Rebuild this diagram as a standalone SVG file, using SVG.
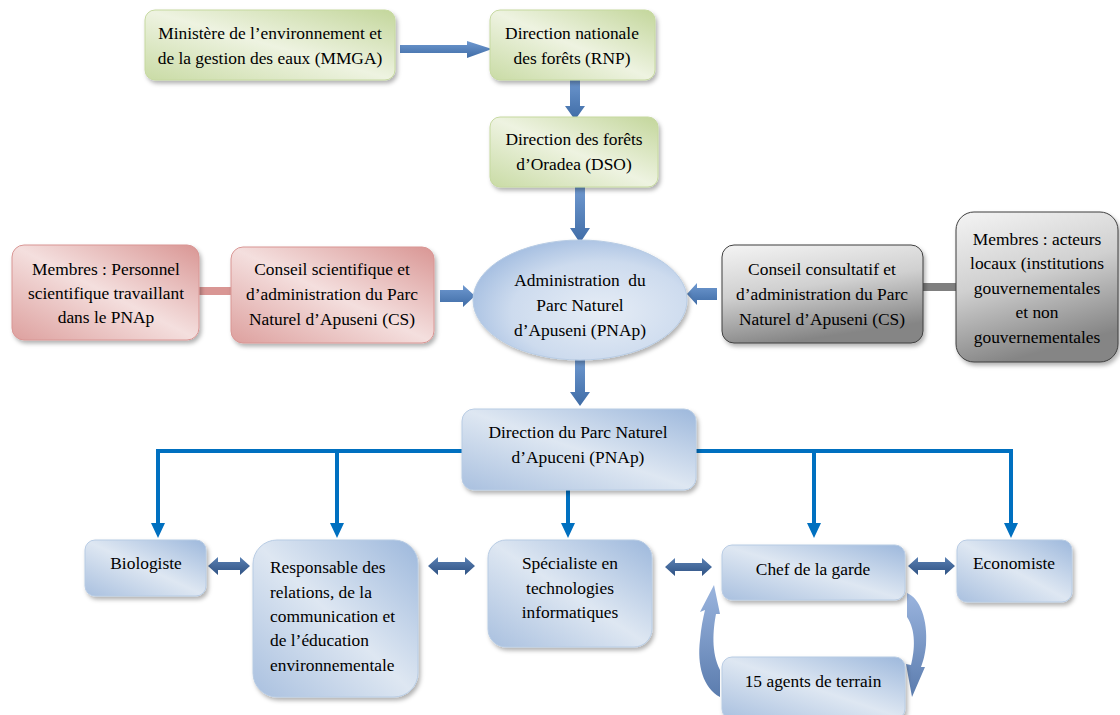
<svg xmlns="http://www.w3.org/2000/svg" width="1120" height="715" viewBox="0 0 1120 715">
<defs>
<linearGradient id="gGreen" x1="0" y1="1" x2="1" y2="0">
<stop offset="0" stop-color="#c9dba5"/><stop offset="0.5" stop-color="#eef3e1"/><stop offset="1" stop-color="#c3d69b"/>
</linearGradient>
<linearGradient id="gBlue" x1="0" y1="1" x2="1" y2="0">
<stop offset="0" stop-color="#a9c0df"/><stop offset="0.5" stop-color="#dee7f2"/><stop offset="1" stop-color="#9db8dc"/>
</linearGradient>
<linearGradient id="gPink" x1="0" y1="1" x2="1" y2="0">
<stop offset="0" stop-color="#dda09e"/><stop offset="0.5" stop-color="#f4dfde"/><stop offset="1" stop-color="#d99694"/>
</linearGradient>
<linearGradient id="gGray" x1="0" y1="0" x2="0.3" y2="1">
<stop offset="0" stop-color="#f4f4f4"/><stop offset="0.5" stop-color="#d0d0d0"/><stop offset="1" stop-color="#858585"/>
</linearGradient>
<radialGradient id="gEll" cx="0.6" cy="0.6" r="0.7">
<stop offset="0" stop-color="#e6edf6"/><stop offset="0.6" stop-color="#cddbee"/><stop offset="1" stop-color="#9cb8de"/>
</radialGradient>
<linearGradient id="gArrow" x1="0" y1="0" x2="0" y2="1">
<stop offset="0" stop-color="#6f99d0"/><stop offset="1" stop-color="#3f6ca6"/>
</linearGradient>
<linearGradient id="gDbl" x1="0" y1="0" x2="0" y2="1">
<stop offset="0" stop-color="#5a80b3"/><stop offset="1" stop-color="#2f5283"/>
</linearGradient>
<linearGradient id="gCurve" x1="0" y1="0" x2="0" y2="1">
<stop offset="0" stop-color="#9ab4de"/><stop offset="1" stop-color="#5b7cae"/>
</linearGradient>
<filter id="sh" x="-10%" y="-10%" width="125%" height="130%">
<feDropShadow dx="2" dy="3" stdDeviation="2" flood-color="#000" flood-opacity="0.3"/>
</filter>
<style>
text{font-size:17.4px;fill:#000;text-anchor:middle}
.green{fill:url(#gGreen);stroke:#c6d9a0;stroke-width:1;filter:url(#sh)}
.blue{fill:url(#gBlue);stroke:#b8cce4;stroke-width:1;filter:url(#sh)}
.pink{fill:url(#gPink);stroke:#d99694;stroke-width:1;filter:url(#sh)}
.gray{fill:url(#gGray);stroke:#3f3f3f;stroke-width:1;filter:url(#sh)}
.line{fill:none;stroke:#0070c0;stroke-width:4}
.blk{fill:url(#gArrow)}
.dbl{fill:url(#gDbl)}
.crv{fill:url(#gCurve)}
.l{text-anchor:start}
</style>
</defs>
<rect width="1120" height="715" fill="#fff"/>

<g id="connectors">
<path class="blk" d="M400,45 L467,45 L467,41 L492,49 L467,58 L467,53 L400,53 Z"/>
<path class="blk" d="M570,77 L580,77 L580,106 L585,106 L575,120 L565,106 L570,106 Z"/>
<path class="blk" d="M575,187 L585,187 L585,228 L590,228 L580,243 L570,228 L575,228 Z"/>
<path class="blk" d="M575,358 L585,358 L585,392 L590,392 L580,406 L570,392 L575,392 Z"/>
<path class="blk" d="M440,290 L463,290 L463,285 L475,296 L463,307 L463,302 L440,302 Z"/>
<path class="blk" d="M717,288 L697,288 L697,283 L687,294 L697,305 L697,300 L717,300 Z"/>
<line x1="198" y1="291" x2="232" y2="291" stroke="#d99694" stroke-width="8"/>
<line x1="922" y1="287" x2="957" y2="287" stroke="#7f7f7f" stroke-width="8"/>
<polyline class="line" points="462,451 158,451 158,524"/>
<line class="line" x1="337" y1="451" x2="337" y2="524"/>
<polyline class="line" points="696,451 1011,451 1011,524"/>
<line class="line" x1="814" y1="451" x2="814" y2="524"/>
<line class="line" x1="568" y1="477" x2="568" y2="524"/>
<path d="M151,523 L165,523 L158,538 Z M330,523 L344,523 L337,538 Z M561,523 L575,523 L568,538 Z M807,523 L821,523 L814,538 Z M1004,523 L1018,523 L1011,538 Z" fill="#0070c0"/>
<path class="dbl" d="M208,566 L218,557 L218,562 L240,562 L240,557 L250,566 L240,575 L240,570 L218,570 L218,575 Z"/>
<path class="dbl" d="M428,566 L438,557 L438,562 L465,562 L465,557 L475,566 L465,575 L465,570 L438,570 L438,575 Z"/>
<path class="dbl" d="M665,567 L675,558 L675,563 L702,563 L702,558 L712,567 L702,576 L702,571 L675,571 L675,576 Z"/>
<path class="dbl" d="M908,566 L918,557 L918,562 L945,562 L945,557 L955,566 L945,575 L945,570 L918,570 L918,575 Z"/>
<path class="crv" d="M720,697 C703,688 697,665 700,640 C701,628 703,618 705,610 L700,612 L714,585 L720,614 L716,614 C713,630 711,652 720,670 Z"/>
<path class="crv" d="M907,593 C920,598 928,620 926,645 C925,655 923,662 921,667 L925,667 L912,697 L906,664 L911,665 C915,650 916,630 907,617 Z"/>
</g>

<g font-family="'Liberation Serif', 'Times New Roman', Times, 'DejaVu Serif', serif">
<g id="mmga">
<rect class="green" x="145" y="10" width="250" height="70" rx="10"/>
<text x="270" y="39">Ministère de l’environnement et</text>
<text x="270" y="64">de la gestion des eaux (MMGA)</text>
</g>
<g id="rnp">
<rect class="green" x="490" y="10" width="165" height="70" rx="10"/>
<text x="572" y="39">Direction nationale</text>
<text x="572" y="64">des forêts (RNP)</text>
</g>
<g id="dso">
<rect class="green" x="490" y="117" width="168" height="70" rx="10"/>
<text x="574" y="145">Direction des forêts</text>
<text x="574" y="170">d’Oradea (DSO)</text>
</g>
<g id="pnap">
<ellipse cx="580" cy="300" rx="107" ry="60" fill="url(#gEll)" stroke="#b8cce4" filter="url(#sh)"/>
<text x="580" y="286" xml:space="preserve">Administration  du</text>
<text x="580" y="311">Parc Naturel</text>
<text x="580" y="336">d’Apuseni (PNAp)</text>
</g>
<g id="membres-cs">
<rect class="pink" x="12" y="245" width="187" height="95" rx="12"/>
<text x="106" y="275">Membres : Personnel</text>
<text x="106" y="299">scientifique travaillant</text>
<text x="106" y="323">dans le PNAp</text>
</g>
<g id="cs">
<rect class="pink" x="231" y="247" width="203" height="96" rx="12"/>
<text x="332" y="275">Conseil scientifique et</text>
<text x="332" y="300">d’administration du Parc</text>
<text x="332" y="325">Naturel d’Apuseni (CS)</text>
</g>
<g id="cc">
<rect class="gray" x="722" y="245" width="201" height="98" rx="12"/>
<text x="822" y="275">Conseil consultatif et</text>
<text x="822" y="300">d’administration du Parc</text>
<text x="822" y="325">Naturel d’Apuseni (CS)</text>
</g>
<g id="membres-cc">
<rect class="gray" x="956" y="212" width="162" height="150" rx="18"/>
<text x="1037" y="245">Membres : acteurs</text>
<text x="1037" y="269">locaux (institutions</text>
<text x="1037" y="294">gouvernementales</text>
<text x="1037" y="318">et non</text>
<text x="1037" y="343">gouvernementales</text>
</g>
<g id="direction">
<rect class="blue" x="462" y="409" width="234" height="81" rx="12"/>
<text x="578" y="438">Direction du Parc Naturel</text>
<text x="578" y="463">d’Apuceni (PNAp)</text>
</g>
<g id="biologiste">
<rect class="blue" x="85" y="540" width="121" height="56" rx="10"/>
<text x="146" y="569">Biologiste</text>
</g>
<g id="responsable">
<rect class="blue" x="253" y="540" width="165" height="157" rx="24"/>
<text class="l" x="270" y="573">Responsable des</text>
<text class="l" x="270" y="598">relations, de la</text>
<text class="l" x="270" y="622">communication et</text>
<text class="l" x="270" y="646">de l’éducation</text>
<text class="l" x="270" y="671">environnementale</text>
</g>
<g id="specialiste">
<rect class="blue" x="488" y="540" width="164" height="107" rx="18"/>
<text x="570" y="569">Spécialiste en</text>
<text x="570" y="594">technologies</text>
<text x="570" y="618">informatiques</text>
</g>
<g id="chef">
<rect class="blue" x="722" y="545" width="183" height="55" rx="10"/>
<text x="813" y="575">Chef de la garde</text>
</g>
<g id="economiste">
<rect class="blue" x="957" y="540" width="115" height="62" rx="10"/>
<text x="1014" y="569">Economiste</text>
</g>
<g id="agents">
<rect class="blue" x="722" y="657" width="183" height="62" rx="10"/>
<text x="813" y="687">15 agents de terrain</text>
</g>
</g>
</svg>
